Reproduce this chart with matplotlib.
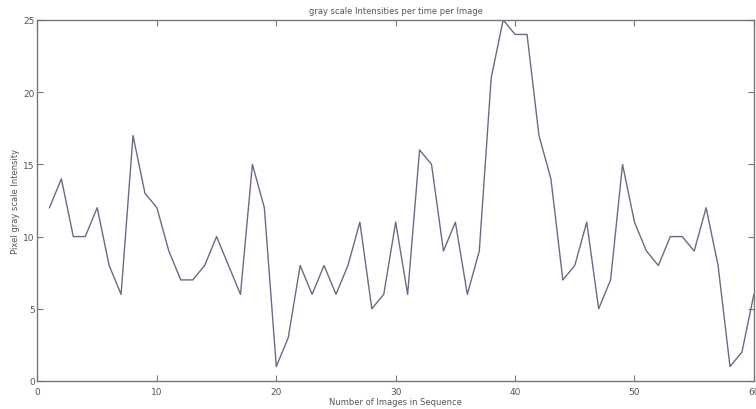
import matplotlib
matplotlib.use("Agg")
import matplotlib.pyplot as plt

x_values = list(range(1, 61))
intensity = [12, 14, 10, 10, 12, 8, 6, 17, 13, 12,
             9, 7, 7, 8, 10, 8, 6, 15, 12, 1,
             3, 8, 6, 8, 6, 8, 11, 5, 6, 11,
             6, 16, 15, 9, 11, 6, 9, 21, 25, 24,
             24, 17, 14, 7, 8, 11, 5, 7, 15, 11,
             9, 8, 10, 10, 9, 12, 8, 1, 2, 6]
x_ticks = [0, 10, 20, 30, 40, 50, 60]
y_ticks = [0, 5, 10, 15, 20, 25]

fig = plt.figure(figsize=(7.56, 4.10), dpi=100)
ax = fig.add_axes([0.0496, 0.0683, 0.9476, 0.8805])
ax.plot(x_values, intensity, color="#6a6a88", linewidth=1.0)
ax.set_xlim(0, 60)
ax.set_ylim(0, 25)
ax.set_xticks(x_ticks)
ax.set_yticks(y_ticks)
for s in ax.spines.values():
    s.set_color("#777777")
    s.set_linewidth(1.0)
ax.tick_params(axis="both", direction="in", top=True, right=True, length=4, width=0.8,
               colors="#777777", labelcolor="#555555", labelsize=6.5)
ax.tick_params(axis="x", pad=4)
ax.tick_params(axis="y", pad=2)
ax.set_title("gray scale Intensities per time per Image", fontsize=6,
             color="#555555", pad=5)
ax.set_xlabel("Number of Images in Sequence", fontsize=6, color="#555555", labelpad=1)
ax.set_ylabel("Pixel gray scale Intensity", fontsize=6, color="#555555", labelpad=2)
fig.savefig("out.png", dpi=100)
